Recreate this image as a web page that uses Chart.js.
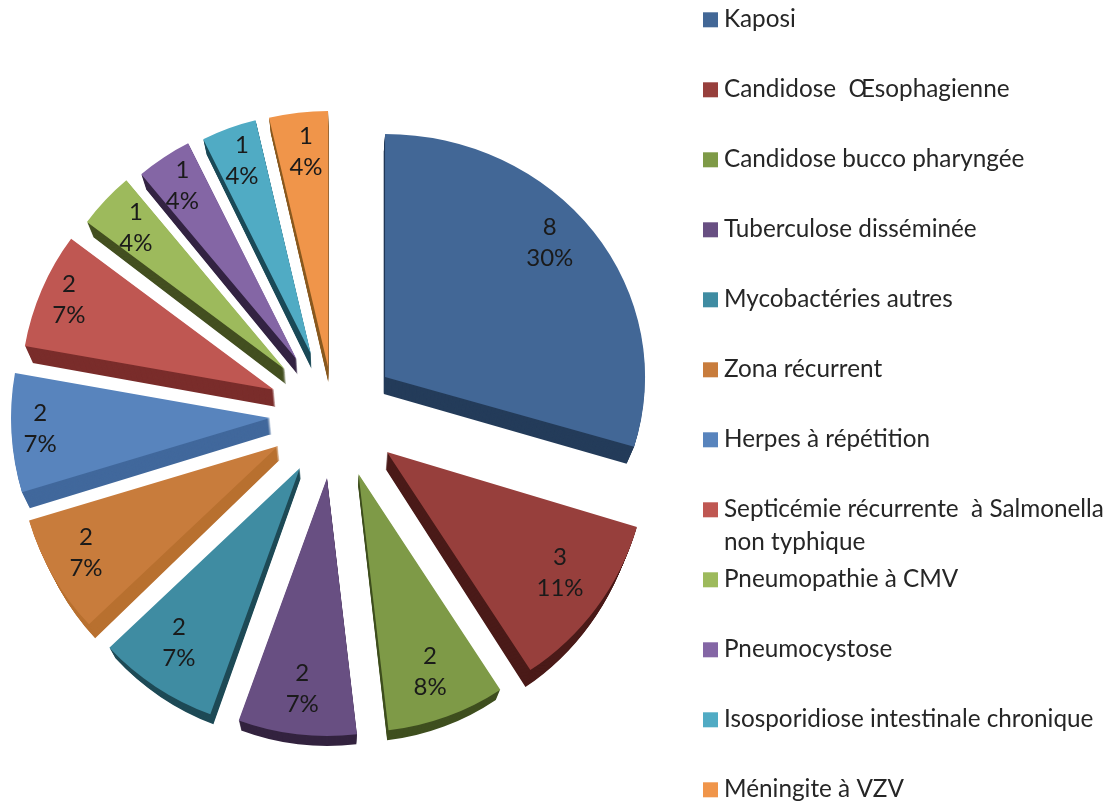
<!DOCTYPE html>
<html lang="fr">
<head>
<meta charset="utf-8">
<title>Infections opportunistes</title>
<script src="https://cdn.jsdelivr.net/npm/chart.js@4"></script>
<style>
  html, body { margin: 0; padding: 0; background: #fff; }
  #wrap { width: 1118px; height: 804px; position: relative; }
</style>
</head>
<body>
<div id="wrap"><canvas id="chartCanvas" width="1118" height="804"></canvas></div>
<script>
// --- Donnees ---
const categories = [
  "Kaposi",
  "Candidose  Œsophagienne",
  "Candidose bucco pharyngée",
  "Tuberculose disséminée",
  "Mycobactéries autres",
  "Zona récurrent",
  "Herpes à répétition",
  ["Septicémie récurrente  à Salmonella", "non typhique"],
  "Pneumopathie à CMV",
  "Pneumocystose",
  "Isosporidiose intestinale chronique",
  "Méningite à VZV"
];
const values = [8, 3, 2, 2, 2, 2, 2, 2, 1, 1, 1, 1];
const percents = ["30%", "11%", "8%", "7%", "7%", "7%", "7%", "7%", "4%", "4%", "4%", "4%"];

// --- Styles ---
const topColors = ["#426796", "#973f3c", "#7e9a47", "#684f82", "#3f8ca2", "#c87c3c",
                   "#5884bd", "#bf5752", "#9dba5c", "#8466a5", "#50abc4", "#f0954a"];
const sideColors = ["#243c5a", "#4a1a18", "#3f4f1f", "#33233f", "#1e4a56", "#b8702f",
                    "#41689c", "#7a2d2b", "#434f20", "#332342", "#1b4a58", "#8a5a20"];
const sideDepth = [17, 17, 10, 10, 10, 14, 16, 17, 15, 15, 15, 15];
const sliceGap = [66, 61, 59, 58.5, 59.5, 62.5, 65, 68, 71, 71.5, 70.5, 53.5];
const gapTurn = [-4, -5, -3.5, 1.2, 2.8, 5.5, 5.1, 3, 2, 1, 0, -0.8];
const sliceRadius = [260, 261, 258, 258, 262, 260, 259, 253, 247, 242, 240, 256];
const sliceSquash = [0.935, 1, 1, 1, 1, 1, 1, 1, 1, 1, 1, 1];
const labelDist = [279, 272, 269, 270, 272, 282, 295, 292, 277, 280, 276, 270];
const labelTurn = [-3, -2.5, -0.7, 0.3, 1.7, 2, 1.7, 1, 0.7, 0.3, 0.3, 0.5];
const FONT = "Lato, 'Noto Sans', sans-serif";

// --- Parts eclatees : rayon et ecart par part ---
const explodePlugin = {
  id: "explode",
  afterDatasetsUpdate(chart) {
    chart.getDatasetMeta(0).data.forEach((arc, i) => {
      const mid = (arc.startAngle + arc.endAngle) / 2 + gapTurn[i] * Math.PI / 180;
      arc.pieX = arc.x;
      arc.pieY = arc.y;
      arc.x += Math.cos(mid) * sliceGap[i];
      arc.y += Math.sin(mid) * sliceGap[i];
      arc.outerRadius = sliceRadius[i];
      // perspective : la grande part est un peu ecrasee en hauteur
      const baseDraw = arc.draw;
      arc.draw = function (ctx) {
        ctx.save();
        ctx.translate(0, arc.y);
        ctx.scale(1, sliceSquash[i]);
        ctx.translate(0, -arc.y);
        baseDraw.call(arc, ctx);
        ctx.restore();
      };
    });
  }
};

// --- Epaisseur 3D ---
const sidePlugin = {
  id: "pieSide",
  beforeDatasetsDraw(chart) {
    const ctx = chart.ctx;
    chart.getDatasetMeta(0).data.forEach((arc, i) => {
      const original = arc.options;
      arc.options = {
        backgroundColor: sideColors[i], borderColor: sideColors[i], borderWidth: 0,
        borderAlign: "center", borderRadius: 0, offset: 0, spacing: 0, circular: true
      };
      for (let k = sideDepth[i]; k >= 1; k--) {
        const t = k / sideDepth[i];
        ctx.save();
        ctx.translate(arc.pieX, k);
        ctx.scale(1 - 0.025 * t, 1);
        ctx.translate(-arc.pieX, 0);
        arc.draw(ctx);
        ctx.restore();
      }
      arc.options = original;
    });
  }
};

// --- Etiquettes ---
const labelPlugin = {
  id: "sliceLabels",
  afterDatasetsDraw(chart) {
    const ctx = chart.ctx;
    ctx.save();
    ctx.fillStyle = "#1a1a1a";
    ctx.font = "24px " + FONT;
    ctx.textAlign = "center";
    ctx.textBaseline = "middle";
    chart.getDatasetMeta(0).data.forEach((arc, i) => {
      const mid = (arc.startAngle + arc.endAngle) / 2 + labelTurn[i] * Math.PI / 180;
      const x = arc.pieX + Math.cos(mid) * labelDist[i];
      const y = arc.pieY + Math.sin(mid) * labelDist[i];
      ctx.fillText(String(values[i]), x, y - 15);
      ctx.fillText(percents[i], x, y + 16);
    });
    ctx.restore();
  }
};

// --- Legende a droite ---
const legendPlugin = {
  id: "sideLegend",
  afterDraw(chart) {
    const ctx = chart.ctx;
    ctx.save();
    ctx.font = "24.3px " + FONT;
    ctx.textBaseline = "alphabetic";
    ctx.textAlign = "left";
    categories.forEach((cat, i) => {
      const yc = 19.8 + i * 70;
      ctx.fillStyle = topColors[i];
      ctx.fillRect(703, yc - 7.5, 15, 15);
      ctx.fillStyle = "#262626";
      const lines = Array.isArray(cat) ? cat : [cat];
      lines.forEach((line, n) => ctx.fillText(line, 724, yc + 7.5 + n * 33));
    });
    ctx.restore();
  }
};

new Chart(document.getElementById("chartCanvas"), {
  type: "pie",
  data: {
    labels: categories,
    datasets: [{
      data: values,
      backgroundColor: topColors,
      borderWidth: 0,
      clip: false
    }]
  },
  options: {
    responsive: false,
    animation: false,
    radius: 250,
    layout: { padding: { left: 0, right: 448, top: 36, bottom: 0 } },
    plugins: {
      legend: { display: false },
      tooltip: { enabled: false }
    }
  },
  plugins: [explodePlugin, sidePlugin, labelPlugin, legendPlugin]
});
</script>
</body>
</html>
